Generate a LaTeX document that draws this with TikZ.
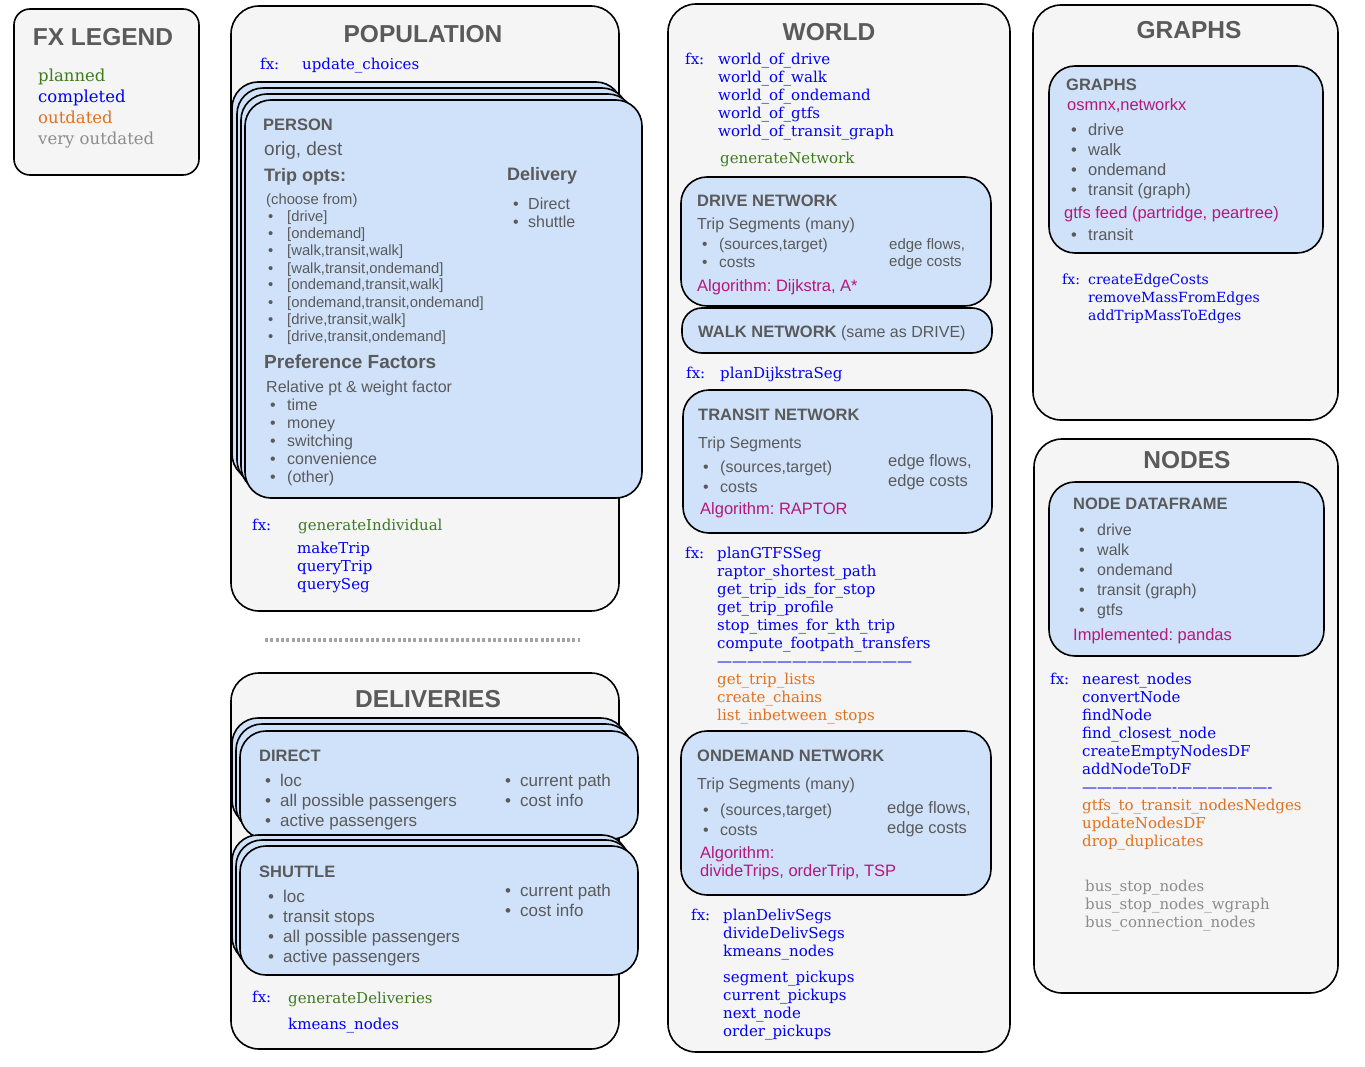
\documentclass[tikz,border=0pt]{standalone}
\usepackage{fontspec}
\setsansfont{Liberation Sans}
\newfontfamily\fxfont{DejaVu Serif}
\frenchspacing

\definecolor{boxgray}{HTML}{F5F5F5}
\definecolor{cardblue}{HTML}{CFE2FA}
\definecolor{txtgray}{HTML}{5A5A5A}
\definecolor{algomag}{HTML}{B5177D}
\definecolor{fxblue}{HTML}{0000F5}
\definecolor{fxgreen}{HTML}{3E7B1E}
\definecolor{fxorange}{HTML}{E0711F}
\definecolor{fxgray}{HTML}{8C8C8C}

\def\fsz#1{\fontsize{#1}{#1}\selectfont}

\begin{document}
\begin{tikzpicture}[x=1pt,y=-1pt]
\tikzset{
  outer/.style={draw=black, line width=1.6pt, fill=boxgray, rounded corners=28pt},
  card/.style={draw=black, line width=1.6pt, fill=cardblue, rounded corners=26pt},
  head/.style={inner sep=0, yshift=-4.5pt, text height=0.72em, text depth=0pt, font=\sffamily\bfseries\fsz{24.5}, text=txtgray},
  txt/.style={anchor=west, inner sep=0, yshift=-3pt, text height=0.6em, text depth=0pt, font=\sffamily\fsz{16}, text=txtgray},
  big/.style={txt, font=\sffamily\fsz{17}},
  sub/.style={txt, font=\sffamily\bfseries\fsz{16.5}},
  algo/.style={txt, text=algomag, font=\sffamily\fsz{16.5}},
  fx/.style={anchor=west, inner sep=0, yshift=-3pt, text height=0.6em, text depth=0pt, font=\fxfont\fsz{15}, text=fxblue},
  planned/.style={fx, text=fxgreen},
  outdated/.style={fx, text=fxorange},
  veryold/.style={fx, text=fxgray}
}
\useasboundingbox (0,0) rectangle (1365,1067);

% legend
\draw[outer, rounded corners=16pt] (14,9) rectangle (199,175);
\node[head] (leg) at (103,37) {FX LEGEND};
\node[planned, font=\fxfont\fsz{16.5}] (leg1) at (38,76) {planned};
\node[fx, font=\fxfont\fsz{16.5}] (leg2) at (38,97) {completed};
\node[outdated, font=\fxfont\fsz{16.5}] (leg3) at (38,118) {outdated};
\node[veryold, font=\fxfont\fsz{16.5}] (leg4) at (38,139) {very outdated};

% population
\draw[outer] (231,6) rectangle (619,611);
\node[head] (pop) at (423,34) {POPULATION};
\node[fx] (popfx) at (260,64) {fx:};
\node[fx] (upd) at (302,64) {update\_choices};
\draw[card] (232,82) rectangle (622,480);
\draw[card] (237,88) rectangle (628,486);
\draw[card] (241,94) rectangle (634,492);
\draw[card] (245,100) rectangle (642,498);
\node[sub] (person) at (263,125) {PERSON};
\node[txt, font=\sffamily\fsz{19}] (od) at (264,150) {orig, dest};
\node[txt, font=\sffamily\bfseries\fsz{18}] (trip) at (264,176) {Trip opts:};
\node[txt, font=\sffamily\fsz{14.8}] (choose) at (266,199) {(choose from)};
\foreach \t [count=\i from 0] in {{[drive]},{[ondemand]},{[walk,transit,walk]},{[walk,transit,ondemand]},
    {[ondemand,transit,walk]},{[ondemand,transit,ondemand]},{[drive,transit,walk]},{[drive,transit,ondemand]}}
{
  \node[txt, font=\sffamily\fsz{14.8}] (tb\i) at (268,{216+17*\i}) {\textbullet};
  \node[txt, font=\sffamily\fsz{14.8}] (to\i) at (287,{216+17*\i}) {\t};
}
\node[txt, font=\sffamily\bfseries\fsz{18}] (deliv) at (507,175) {Delivery};
\node[txt] (db1) at (513,204) {\textbullet};
\node[txt] (dl1) at (528,204) {Direct};
\node[txt] (db2) at (513,222) {\textbullet};
\node[txt] (dl2) at (528,222) {shuttle};
\node[txt, font=\sffamily\bfseries\fsz{19}] (pref) at (264,362) {Preference Factors};
\node[txt] (rel) at (266,386) {Relative pt \& weight factor};
\foreach \t [count=\i from 0] in {time,money,switching,convenience,(other)}
{
  \node[txt] (pb\i) at (270,{404+18*\i}) {\textbullet};
  \node[txt] (pf\i) at (287,{404+18*\i}) {\t};
}
\node[fx] (popfx2) at (252,524) {fx:};
\node[planned] (gen) at (298,524) {generateIndividual};
\node[fx] (mk) at (297,547) {makeTrip};
\node[fx] (qt) at (297,565) {queryTrip};
\node[fx] (qs) at (297,583) {querySeg};

\draw[fxgray!80, line width=3.5pt, dash pattern=on 3pt off 2.3pt] (265,640) -- (580,640);

% deliveries
\draw[outer] (231,673) rectangle (619,1049);
\node[head] (dels) at (428,699) {DELIVERIES};
\draw[card] (232,718) rectangle (627,826);
\draw[card] (236,724) rectangle (632,832);
\draw[card] (240,731) rectangle (638,839);
\node[sub] (direct) at (259,755) {DIRECT};
\foreach \t [count=\i from 0] in {loc,all possible passengers,active passengers}
{
  \node[big] (drb\i) at (265,{780+20*\i}) {\textbullet};
  \node[big] (dr\i) at (280,{780+20*\i}) {\t};
}
\node[big] (drcb1) at (505,780) {\textbullet};
\node[big] (drc1) at (520,780) {current path};
\node[big] (drcb2) at (505,800) {\textbullet};
\node[big] (drc2) at (520,800) {cost info};
\draw[card] (232,835) rectangle (628,963);
\draw[card] (236,840) rectangle (632,969);
\draw[card] (240,846) rectangle (638,975);
\node[sub] (shuttle) at (259,871) {SHUTTLE};
\foreach \t [count=\i from 0] in {loc,transit stops,all possible passengers,active passengers}
{
  \node[big] (shb\i) at (268,{896+20*\i}) {\textbullet};
  \node[big] (sh\i) at (283,{896+20*\i}) {\t};
}
\node[big] (shcb1) at (505,890) {\textbullet};
\node[big] (shc1) at (520,890) {current path};
\node[big] (shcb2) at (505,910) {\textbullet};
\node[big] (shc2) at (520,910) {cost info};
\node[fx] (delfx) at (252,996) {fx:};
\node[planned] (gend) at (288,997) {generateDeliveries};
\node[fx] (kmd) at (288,1023) {kmeans\_nodes};

% world
\draw[outer] (668,4) rectangle (1010,1052);
\node[head] (world) at (829,32) {WORLD};
\node[fx] (wfx) at (685,59) {fx:};
\foreach \t [count=\i from 0] in {world\_of\_drive,world\_of\_walk,world\_of\_ondemand,world\_of\_gtfs,world\_of\_transit\_graph}
  \node[fx] (wf\i) at (718,{59+18*\i}) {\t};
\node[planned] (gennet) at (720,158) {generateNetwork};

\draw[card] (681,177) rectangle (991,306);
\node[sub] (drive) at (697,201) {DRIVE NETWORK};
\node[txt] (drseg) at (697,224) {Trip Segments (many)};
\node[txt, font=\sffamily\fsz{15.5}] (drb1) at (702,244) {\textbullet};
\node[txt, font=\sffamily\fsz{15.5}] (drs1) at (719,244) {(sources,target)};
\node[txt, font=\sffamily\fsz{15.5}] (drb2) at (702,262) {\textbullet};
\node[txt, font=\sffamily\fsz{15.5}] (drs2) at (719,262) {costs};
\node[txt, font=\sffamily\fsz{15}] (dre1) at (889,244) {edge flows,};
\node[txt, font=\sffamily\fsz{15}] (dre2) at (889,261) {edge costs};
\node[algo] (dralg) at (697,286) {Algorithm: Dijkstra, A*};

\draw[card, rounded corners=20pt] (682,308) rectangle (992,353);
\node[txt] (walk) at (698,331) {\bfseries\fsz{16.5}WALK NETWORK\mdseries\fsz{16} (same as DRIVE)};
\node[fx] (wfx2) at (686,372) {fx:};
\node[fx] (pds) at (720,372) {planDijkstraSeg};

\draw[card] (683,390) rectangle (992,533);
\node[sub] (transit) at (698,414) {TRANSIT NETWORK};
\node[txt] (trseg) at (698,442) {Trip Segments};
\node[txt] (trb1) at (703,466) {\textbullet};
\node[txt] (trs1) at (720,466) {(sources,target)};
\node[txt] (trb2) at (703,486) {\textbullet};
\node[txt] (trs2) at (720,486) {costs};
\node[txt, font=\sffamily\fsz{16.5}] (tre1) at (888,460) {edge flows,};
\node[txt, font=\sffamily\fsz{16.5}] (tre2) at (888,480) {edge costs};
\node[algo] (tralg) at (700,508) {Algorithm: RAPTOR};

\node[fx] (wfx3) at (685,552) {fx:};
\foreach \t [count=\i from 0] in {planGTFSSeg,raptor\_shortest\_path,get\_trip\_ids\_for\_stop,get\_trip\_profile,
    stop\_times\_for\_kth\_trip,compute\_footpath\_transfers,—————————————}
  \node[fx] (gf\i) at (717,{552+18*\i}) {\t};
\foreach \t [count=\i from 0] in {get\_trip\_lists,create\_chains,list\_inbetween\_stops}
  \node[outdated] (go\i) at (717,{678+18*\i}) {\t};

\draw[card] (681,731) rectangle (991,895);
\node[sub] (ondem) at (697,755) {ONDEMAND NETWORK};
\node[txt] (odseg) at (697,783) {Trip Segments (many)};
\node[txt] (odb1) at (703,809) {\textbullet};
\node[txt] (ods1) at (720,809) {(sources,target)};
\node[txt] (odb2) at (703,829) {\textbullet};
\node[txt] (ods2) at (720,829) {costs};
\node[txt, font=\sffamily\fsz{16.5}] (ode1) at (887,807) {edge flows,};
\node[txt, font=\sffamily\fsz{16.5}] (ode2) at (887,827) {edge costs};
\node[algo] (odalg1) at (700,852) {Algorithm:};
\node[algo] (odalg2) at (700,870) {divideTrips, orderTrip, TSP};

\node[fx] (wfx4) at (691,914) {fx:};
\foreach \t [count=\i from 0] in {planDelivSegs,divideDelivSegs,kmeans\_nodes}
  \node[fx] (df\i) at (723,{914+18*\i}) {\t};
\foreach \t [count=\i from 0] in {segment\_pickups,current\_pickups,next\_node,order\_pickups}
  \node[fx] (pk\i) at (723,{976+18*\i}) {\t};

% graphs
\draw[outer] (1033,5) rectangle (1338,420);
\node[head] (graphs) at (1189,30) {GRAPHS};
\draw[card] (1049,66) rectangle (1323,253);
\node[sub] (gr) at (1066,85) {GRAPHS};
\node[algo] (osm) at (1067,105) {osmnx,networkx};
\foreach \t [count=\i from 0] in {drive,walk,ondemand,transit (graph)}
{
  \node[txt, font=\sffamily\fsz{16.5}] (gb\i) at (1071,{130+20*\i}) {\textbullet};
  \node[txt, font=\sffamily\fsz{16.5}] (gl\i) at (1088,{130+20*\i}) {\t};
}
\node[algo] (gtfs) at (1064,213) {gtfs feed (partridge, peartree)};
\node[txt, font=\sffamily\fsz{16.5}] (gtb) at (1071,235) {\textbullet};
\node[txt, font=\sffamily\fsz{16.5}] (gtl) at (1088,235) {transit};
\node[fx, font=\fxfont\fsz{14}] (gfx) at (1062,278) {fx:};
\foreach \t [count=\i from 0] in {createEdgeCosts,removeMassFromEdges,addTripMassToEdges}
  \node[fx, font=\fxfont\fsz{14}] (ge\i) at (1088,{278+18*\i}) {\t};

% nodes
\draw[outer] (1034,439) rectangle (1338,993);
\node[head] (nodes) at (1187,460) {NODES};
\draw[card] (1049,482) rectangle (1324,656);
\node[sub] (ndf) at (1073,503) {NODE DATAFRAME};
\foreach \t [count=\i from 0] in {drive,walk,ondemand,transit (graph),gtfs}
{
  \node[txt] (nb\i) at (1079,{529+20*\i}) {\textbullet};
  \node[txt] (nl\i) at (1097,{529+20*\i}) {\t};
}
\node[algo] (impl) at (1073,634) {Implemented: pandas};
\node[fx] (nfx) at (1050,678) {fx:};
\foreach \t [count=\i from 0] in {nearest\_nodes,convertNode,findNode,find\_closest\_node,createEmptyNodesDF,
    addNodeToDF,——————-——————-}
  \node[fx] (nf\i) at (1082,{678+18*\i}) {\t};
\foreach \t [count=\i from 0] in {gtfs\_to\_transit\_nodesNedges,updateNodesDF,drop\_duplicates}
  \node[outdated] (no\i) at (1082,{804+18*\i}) {\t};
\foreach \t [count=\i from 0] in {bus\_stop\_nodes,bus\_stop\_nodes\_wgraph,bus\_connection\_nodes}
  \node[veryold] (nv\i) at (1085,{885+18*\i}) {\t};
\end{tikzpicture}
\end{document}
